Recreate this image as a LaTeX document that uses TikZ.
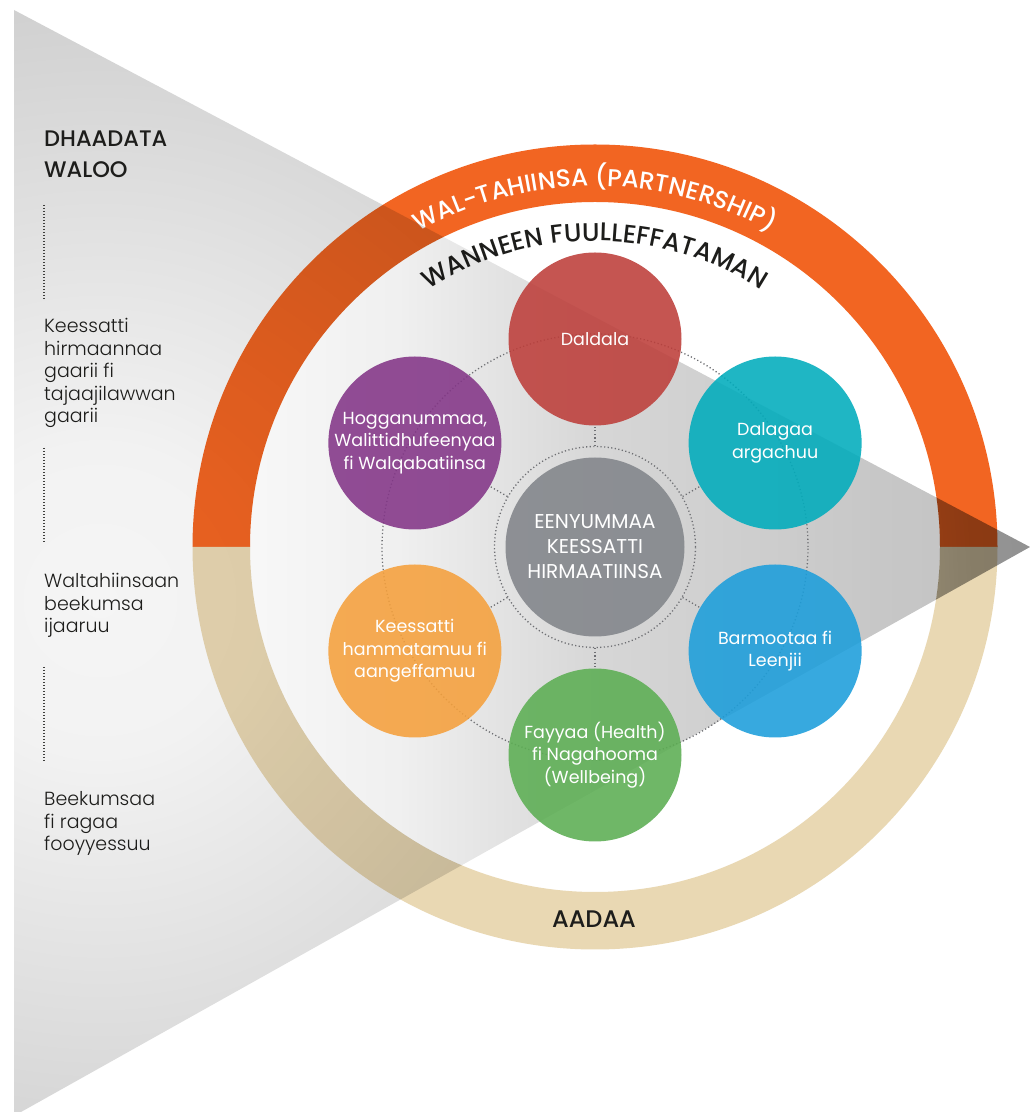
\documentclass[tikz,border=0pt]{standalone}
\usepackage{fontspec}
\setmainfont{Poppins}
\newfontfamily\medfont{Poppins Medium}
\newfontfamily\lightfont{Poppins Light}
\usetikzlibrary{decorations.text,fadings}
\definecolor{ringor}{HTML}{F26522}
\definecolor{ringbe}{HTML}{E9D8B3}
\definecolor{cred}{HTML}{BD3E3A}
\definecolor{cteal}{HTML}{00ACBC}
\definecolor{cblue}{HTML}{1C9EDB}
\definecolor{cgreen}{HTML}{5CAE53}
\definecolor{corange}{HTML}{F5A03C}
\definecolor{cpurple}{HTML}{833587}
\definecolor{cgray}{HTML}{84878C}
\definecolor{dotc}{HTML}{6E6F73}
\definecolor{txt}{HTML}{1D1D1B}
% radial mask: light near the middle of the left edge, darker towards the corners and the tip
\pgfdeclareradialshading{radA}{\pgfpoint{0bp}{0bp}}{color(0bp)=(black!96); color(150bp)=(black!95); color(450bp)=(black!86); color(620bp)=(black!81); color(870bp)=(black!58); color(1300bp)=(black!52)}
% masks in page units, centred on the page centre (515.5,556)
\begin{tikzfadingfrompicture}[name=fadeA]
  \useasboundingbox (-515.5pt,-556pt) rectangle (515.5pt,556pt);
  \fill[black!55] (-515.5pt,-556pt) rectangle (515.5pt,556pt);
  \node[inner sep=0pt] at (-415.5pt,-44pt) {\pgfuseshading{radA}};
\end{tikzfadingfrompicture}
\begin{tikzfadingfrompicture}[name=fadeB]
  \useasboundingbox (-515.5pt,-556pt) rectangle (515.5pt,556pt);
  \shade[left color=transparent!97, right color=transparent!97] (-515.5pt,-556pt) rectangle (-265pt,556pt);
  \shade[left color=transparent!97, right color=transparent!94] (-266pt,-556pt) rectangle (-115pt,556pt);
  \shade[left color=transparent!94, right color=transparent!84] (-116pt,-556pt) rectangle (85pt,556pt);
  \shade[left color=transparent!84, right color=transparent!78] (84pt,-556pt) rectangle (365pt,556pt);
  \shade[left color=transparent!78, right color=transparent!76] (364pt,-556pt) rectangle (515.5pt,556pt);
\end{tikzfadingfrompicture}
\begin{document}
\begin{tikzpicture}[x=1pt,y=1pt,
  hexc/.style={circle, minimum size=173pt, inner sep=0pt, fill opacity=0.88, text opacity=1, text=white, align=center, font=\fontsize{17.5}{22.5}\selectfont},
  dotline/.style={draw=dotc, line width=1.3pt, dash pattern=on 1.2pt off 2.4pt},
  lefthead/.style={anchor=base west, inner sep=0pt, text=txt, font=\medfont\fontsize{22.5}{31}\selectfont},
  leftbody/.style={anchor=base west, inner sep=0pt, text=txt, font=\lightfont\fontsize{19}{23}\selectfont},
  vdots/.style={draw=txt!85, line width=1.4pt, dash pattern=on 1.3pt off 1.7pt},
  overlay/.style={black, fit fading=false, fading transform={shift={(515.5,556)}}}]
\useasboundingbox (0,0) rectangle (1031,1112);
\fill[white] (0,0) rectangle (1031,1112);
\coordinate (O) at (595,565);
% outer ring
\fill[ringor] (997.5,565) arc[start angle=0,end angle=180,radius=402.5] -- (250,565) arc[start angle=180,end angle=0,radius=345] -- cycle;
\fill[ringbe] (997.5,565) arc[start angle=0,end angle=-180,radius=402.5] -- (250,565) arc[start angle=180,end angle=360,radius=345] -- cycle;
% curved texts
\path[decorate, decoration={text along path, text align=center, text color=white,
  text={|\medfont\fontsize{24.5}{24.5}\selectfont|WAL-TAHIINSA (PARTNERSHIP)}}]
  (234,565) arc[start angle=180, end angle=0, radius=361];
\path[decorate, decoration={text along path, text align=center, text color=txt,
  text={|\medfont\fontsize{25.5}{25.5}\selectfont|WANNEEN FUULLEFFATAMAN}}]
  (289,565) arc[start angle=180, end angle=0, radius=306];
\node[anchor=base, inner sep=0pt, text=txt, font=\medfont\fontsize{24}{24}\selectfont] (aadaa) at (594,184) {AADAA};
% translucent triangle, outside the inner disc
\begin{scope}
  \clip (14,1102) -- (1030,565) -- (21,0) -- (14,0) -- cycle;
  \fill[overlay, path fading=fadeA] (0,0) -- (1031,0) -- (1031,1112) -- (0,1112) -- cycle
     (940,565) arc[start angle=0, end angle=-360, radius=345];
\end{scope}
% translucent triangle, inside the inner disc
\begin{scope}
  \clip (O) circle[radius=345];
  \fill[overlay, path fading=fadeB] (14,1102) -- (1030,565) -- (21,0) -- (14,0) -- cycle;
\end{scope}
% dotted orbits
\node[circle, minimum size=426pt, inner sep=0pt, dotline] (orbit) at (O) {};
\node[circle, minimum size=201pt, inner sep=0pt, dotline] (corering) at (O) {};
% circles
\node[circle, minimum size=179pt, inner sep=0pt, fill=cgray, fill opacity=0.9, text opacity=1, text=white, align=center, font=\fontsize{20}{25}\selectfont] (core) at (O) {EENYUMMAA\\KEESSATTI\\HIRMAATIINSA};
\node[hexc, fill=cred] (n1) at ([shift={(90:208)}]O) {Daldala};
\node[hexc, fill=cteal] (n2) at ([shift={(30:208)}]O) {Dalagaa\\argachuu};
\node[hexc, fill=cblue] (n3) at ([shift={(-30:208)}]O) {Barmootaa fi\\Leenjii};
\node[hexc, fill=cgreen] (n4) at ([shift={(-90:208)}]O) {Fayyaa (Health)\\fi Nagahooma\\(Wellbeing)};
\node[hexc, fill=corange] (n5) at ([shift={(210:208)}]O) {Keessatti\\hammatamuu fi\\aangeffamuu};
\node[hexc, fill=cpurple] (n6) at ([shift={(150:208)}]O) {Hogganummaa,\\Walittidhufeenyaa\\fi Walqabatiinsa};
% connectors
\draw[dotline] (corering.90) -- (n1.270);
\draw[dotline] (corering.30) -- (n2.210);
\draw[dotline] (corering.-30) -- (n3.150);
\draw[dotline] (corering.-90) -- (n4.90);
\draw[dotline] (corering.210) -- (n5.30);
\draw[dotline] (corering.150) -- (n6.-30);
% left column
\node[lefthead] (h1) at (44,965) {DHAADATA};
\node[lefthead] (h2) at (44,934) {WALOO};
\coordinate (d1a) at (44,907); \coordinate (d1b) at (44,812);
\coordinate (d2a) at (44,664); \coordinate (d2b) at (44,569);
\coordinate (d3a) at (44,445); \coordinate (d3b) at (44,351);
\draw[vdots] (d1a) -- (d1b);
\draw[vdots] (d2a) -- (d2b);
\draw[vdots] (d3a) -- (d3b);
\node[leftbody] (a1) at (44,779) {Keessatti};
\node[leftbody] (a2) at (44,756.5) {hirmaannaa};
\node[leftbody] (a3) at (44,734) {gaarii fi};
\node[leftbody] (a4) at (44,711.5) {tajaajilawwan};
\node[leftbody] (a5) at (44,689) {gaarii};
\node[leftbody] (b1) at (44,524) {Waltahiinsaan};
\node[leftbody] (b2) at (44,501.5) {beekumsa};
\node[leftbody] (b3) at (44,479) {ijaaruu};
\node[leftbody] (c1) at (44,306) {Beekumsaa};
\node[leftbody] (c2) at (44,283.5) {fi ragaa};
\node[leftbody] (c3) at (44,261) {fooyyessuu};
\end{tikzpicture}
\end{document}
